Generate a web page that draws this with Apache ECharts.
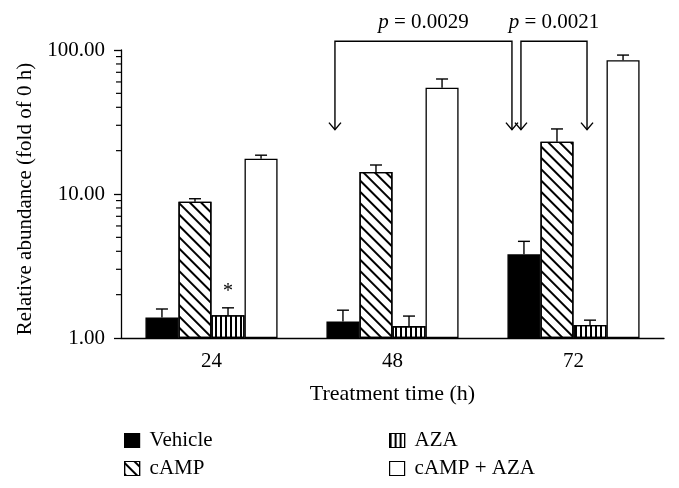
<!DOCTYPE html>
<html>
<head>
<meta charset="utf-8">
<script src="https://cdn.jsdelivr.net/npm/echarts@6/dist/echarts.min.js"></script>
<style>
  html, body { margin: 0; padding: 0; background: #fff; }
  #chart { width: 679px; height: 488px; }
</style>
</head>
<body>
<div id="chart"></div>
<script>
// time points (h)
var categories = ['24', '48', '72'];
var seriesNames = ['Vehicle', 'cAMP', 'AZA', 'cAMP + AZA'];

// means, fold of 0 h
var vehicle = [1.39, 1.30, 3.81];
var camp = [8.84, 14.2, 23.1];
var aza = [1.44, 1.21, 1.23];
var campAza = [17.6, 54.7, 84.8];

// upper error (SD)
var vehicleSd = [0.20, 0.26, 0.88];
var campSd = [0.43, 1.7, 5.2];
var azaSd = [0.18, 0.21, 0.10];
var campAzaSd = [1.0, 8.2, 7.4];

// significance marks above bars
var azaStars = ['*', '', ''];

// y ticks
var yTicks = [1, 10, 100];
var minorTicks = [2, 3, 4, 5, 6, 7, 8, 9, 20, 30, 40, 50, 60, 70, 80, 90];

// comparison brackets: [category index, bar index]
var brackets = [
    { p: '0.0029', from: [1, 0], to: [2, 0] },
    { p: '0.0021', from: [2, 0], to: [2, 2] }
];
var bracketTipValue = 28;
var bracketTopValue = 115;

var FONT = 'Liberation Serif';
var means = [vehicle, camp, aza, campAza];
var sds = [vehicleSd, campSd, azaSd, campAzaSd];
var gapRatio = 0.27;

var chart = echarts.init(document.getElementById('chart'));

var hatch = {
    symbol: 'rect', symbolSize: 1,
    dashArrayX: [1, 0], dashArrayY: [1.4, 5.6],
    rotation: Math.PI / 4, color: '#000'
};
var stripes = {
    symbol: 'rect', symbolSize: 1,
    dashArrayX: [2, 2.2], dashArrayY: [1, 0],
    rotation: 0, color: '#000'
};
var barStyles = [
    { color: '#000', borderColor: '#000', borderWidth: 1.3 },
    { color: '#fff', borderColor: '#000', borderWidth: 1.3, decal: hatch },
    { color: '#fff', borderColor: '#000', borderWidth: 1.3, decal: stripes },
    { color: '#fff', borderColor: '#000', borderWidth: 1.3 }
];

function barWidth(api) {
    return api.size([1, 0])[0] * (1 - gapRatio) / 4;
}
function barX(api, cat, bar) {
    var c = api.coord([cat, 1])[0];
    return c + (bar - 1.5) * barWidth(api);
}

var errData = [];
for (var s = 0; s < 4; s++) {
    for (var c = 0; c < categories.length; c++) {
        errData.push([c, means[s][c], means[s][c] + sds[s][c], s, s === 2 ? azaStars[c] : '']);
    }
}

var minorData = minorTicks.map(function (v) { return [0, v]; });

var bracketNudge = [[-8, -12], [-3, -3]];
var bracketData = brackets.map(function (b, i) {
    return [b.from[0], bracketTopValue, b.from[1], b.to[0], b.to[1], i];
});

var barSeries = seriesNames.map(function (name, i) {
    return {
        name: name,
        type: 'bar',
        barGap: '0%',
        barCategoryGap: (gapRatio * 100) + '%',
        itemStyle: barStyles[i],
        emphasis: { disabled: true },
        data: means[i]
    };
});

function legendAt(name, left, top) {
    return {
        data: [name],
        left: left, top: top,
        icon: 'rect', itemWidth: 15, itemHeight: 14,
        itemStyle: { borderColor: '#000', borderWidth: 1.2 },
        textStyle: { fontFamily: FONT, fontSize: 21, color: '#000', padding: [0, 0, 0, 5] },
        selectedMode: false
    };
}

var option = {
    animation: false,
    textStyle: { fontFamily: FONT, color: '#000' },
    grid: { left: 121, right: 15, top: 50, bottom: 150 },
    legend: [
        legendAt('Vehicle', 119, 425),
        legendAt('AZA', 384, 425),
        legendAt('cAMP', 119, 453),
        legendAt('cAMP + AZA', 384, 453)
    ],
    xAxis: {
        type: 'category',
        data: categories,
        name: 'Treatment time (h)',
        nameLocation: 'middle',
        nameGap: 45,
        nameTextStyle: { fontFamily: FONT, fontSize: 22, color: '#000' },
        axisLine: { lineStyle: { color: '#000', width: 1.3 } },
        axisTick: { length: 6, lineStyle: { color: '#000', width: 1.3 } },
        axisLabel: { fontFamily: FONT, fontSize: 21, color: '#000', margin: 13 }
    },
    yAxis: {
        type: 'log',
        logBase: 10,
        min: yTicks[0],
        max: yTicks[yTicks.length - 1],
        name: 'Relative abundance (fold of 0 h)',
        nameLocation: 'middle',
        nameGap: 83,
        nameTextStyle: { fontFamily: FONT, fontSize: 21, color: '#000', padding: [0, 0, 0, -10] },
        splitLine: { show: false },
        axisLine: { show: true, lineStyle: { color: '#000', width: 1.3 } },
        axisTick: { show: true, length: 7, lineStyle: { color: '#000', width: 1.3 } },
        axisLabel: {
            fontFamily: FONT, fontSize: 21, color: '#000', margin: 16,
            formatter: function (v) { return v.toFixed(2); }
        }
    },
    series: barSeries.concat([
        {
            name: 'errors',
            type: 'custom',
            z: 3,
            silent: true,
            encode: { x: 0, y: [1, 2] },
            data: errData,
            renderItem: function (params, api) {
                var cat = api.value(0);
                var bar = api.value(3);
                var x = barX(api, cat, bar);
                var yMean = api.coord([cat, api.value(1)])[1];
                var yTop = api.coord([cat, api.value(2)])[1];
                var children = [
                    { type: 'line', shape: { x1: x, y1: yMean, x2: x, y2: yTop }, style: { stroke: '#000', lineWidth: 1.4 } },
                    { type: 'line', shape: { x1: x - 6, y1: yTop, x2: x + 6, y2: yTop }, style: { stroke: '#000', lineWidth: 1.4 } }
                ];
                var star = errData[params.dataIndex][4];
                if (star) {
                    children.push({
                        type: 'text',
                        style: { text: star, x: x, y: yTop - 6, align: 'center', verticalAlign: 'bottom',
                                 font: '20px ' + FONT, fill: '#000' }
                    });
                }
                return { type: 'group', children: children };
            }
        },
        {
            name: 'minorTicks',
            type: 'custom',
            silent: true,
            encode: { x: 0, y: 1 },
            data: minorData,
            renderItem: function (params, api) {
                var y = api.coord([0, api.value(1)])[1];
                var x0 = params.coordSys.x;
                return { type: 'line', shape: { x1: x0 - 5, y1: y, x2: x0, y2: y }, style: { stroke: '#000', lineWidth: 1.2 } };
            }
        },
        {
            name: 'brackets',
            type: 'custom',
            silent: true,
            clip: false,
            encode: { x: 0, y: 1 },
            data: bracketData,
            renderItem: function (params, api) {
                var i = api.value(5);
                var b = brackets[i];
                var x1 = barX(api, b.from[0], b.from[1]) + bracketNudge[i][0];
                var x2 = barX(api, b.to[0], b.to[1]) + bracketNudge[i][1];
                var yTop = api.coord([0, bracketTopValue])[1];
                var yTip = api.coord([0, bracketTipValue])[1];
                var st = { stroke: '#000', lineWidth: 1.4, fill: null };
                function head(x) {
                    return { type: 'polyline', shape: { points: [[x - 6, yTip - 7], [x, yTip], [x + 6, yTip - 7]] }, style: st };
                }
                return {
                    type: 'group',
                    children: [
                        { type: 'polyline', shape: { points: [[x1, yTip], [x1, yTop], [x2, yTop], [x2, yTip]] }, style: st },
                        head(x1), head(x2),
                        {
                            type: 'text',
                            style: {
                                text: '{i|p} = ' + b.p,
                                x: (x1 + x2) / 2, y: yTop - 19,
                                align: 'center', verticalAlign: 'middle',
                                font: '21px ' + FONT, fill: '#000',
                                rich: { i: { fontStyle: 'italic', fontFamily: FONT, fontSize: 21 } }
                            }
                        }
                    ]
                };
            }
        }
    ])
};

chart.setOption(option);
</script>
</body>
</html>
